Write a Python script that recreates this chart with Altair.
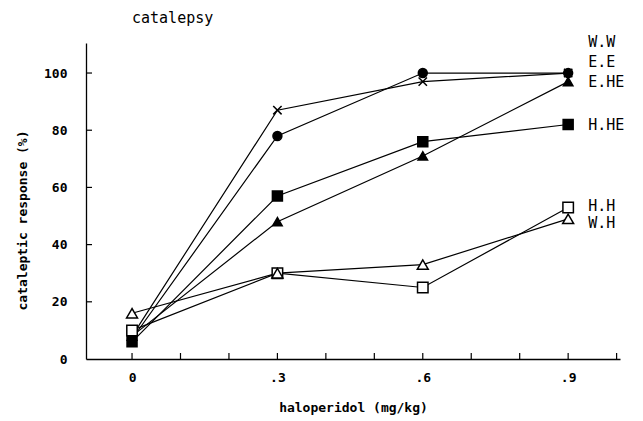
import altair as alt
import pandas as pd

doses = [0, 0.3, 0.6, 0.9]
series = ["W.W", "E.E", "E.HE", "H.HE", "H.H", "W.H"]
ww = [8, 87, 97, 100]
ee = [7, 78, 100, 100]
ehe = [8, 48, 71, 97]
hhe = [6, 57, 76, 82]
hh = [10, 30, 25, 53]
wh = [16, 30, 33, 49]
values = [ww, ee, ehe, hhe, hh, wh]

shapes = ["M-1,-1L1,1M-1,1L1,-1", "circle", "triangle-up", "square", "square", "triangle-up"]
fills = ["transparent", "black", "black", "black", "white", "white"]
sizes = [70, 120, 100, 100, 90, 90]

label_y = [110.8, 103.8, 96.9, 81.8, 53.5, 47.6]

y_ticks = [0, 20, 40, 60, 80, 100]
x_ticks = [0, 0.1, 0.2, 0.3, 0.4, 0.5, 0.6, 0.7, 0.8, 0.9, 1.0]
x_labels = [0, 0.3, 0.6, 0.9]

rows = []
for s, vals in zip(series, values):
    for d, v in zip(doses, vals):
        rows.append({"series": s, "dose": d, "resp": v})
df = pd.DataFrame(rows)
lab = pd.DataFrame({"series": series, "dose": [0.9] * len(series), "ly": label_y})

FONT = "DejaVu Sans Mono"
xs = alt.Scale(domain=[-0.095, 1.007], nice=False, zero=False)
ys = alt.Scale(domain=[0, 110.5], nice=False)

x_enc = alt.X("dose:Q", scale=xs, axis=alt.Axis(
    values=x_labels, title="haloperidol (mg/kg)", ticks=False, grid=False,
    labelExpr="datum.value == 0 ? '0' : replace(format(datum.value, '.1f'), '0.', '.')",
    labelPadding=12, titleY=48, titleBaseline="middle"))
y_enc = alt.Y("resp:Q", scale=ys, axis=alt.Axis(
    values=y_ticks, title="cataleptic response (%)", ticks=False, grid=False,
    labelPadding=19, titleX=-64, titleY=177, titleBaseline="middle", titleAlign="center"))

lines = alt.Chart(df).mark_line(color="black", strokeWidth=1.2).encode(
    x=x_enc, y=y_enc, detail="series:N", order="dose:Q")

points = alt.Chart(df).mark_point(stroke="black", strokeWidth=1.5, opacity=1).encode(
    x="dose:Q", y="resp:Q",
    shape=alt.Shape("series:N", scale=alt.Scale(domain=series, range=shapes), legend=None),
    fill=alt.Fill("series:N", scale=alt.Scale(domain=series, range=fills), legend=None),
    size=alt.Size("series:N", scale=alt.Scale(domain=series, range=sizes), legend=None),
)

labels = alt.Chart(lab).mark_text(align="left", baseline="middle", dx=20, font=FONT,
                                  fontSize=15, color="black").encode(
    x="dose:Q", y="ly:Q", text="series:N")

title = alt.Chart(lab).transform_filter("datum.series == 'W.W'").mark_text(
    align="left", baseline="alphabetic", font=FONT, fontSize=15,
    color="black").encode(x=alt.value(46), y=alt.value(-20), text=alt.value("catalepsy"))

ytick_df = pd.DataFrame({"t": y_ticks[1:]})
yticks = alt.Chart(ytick_df).mark_rule(color="black", strokeWidth=1.2).encode(
    y=alt.Y("t:Q", scale=ys), x=alt.value(0), x2=alt.value(6))
xtick_df = pd.DataFrame({"t": x_ticks})
xticks = alt.Chart(xtick_df).mark_rule(color="black", strokeWidth=1.2).encode(
    x=alt.X("t:Q", scale=xs), y=alt.value(316), y2=alt.value(310))

chart = alt.layer(lines, yticks, xticks, points, labels, title).properties(
    width=534, height=316,
    padding={"left": 86, "top": 43, "right": 23, "bottom": 62},
    autosize=alt.AutoSizeParams(type="none"),
    background="white",
).configure_view(stroke=None).configure_axis(
    domainColor="black", domainWidth=1.3, labelFont=FONT, labelFontSize=13, labelFontWeight="bold",
    labelColor="black", titleFont=FONT, titleFontSize=13, titleFontWeight="bold", titleColor="black",
)

chart.save("out.html", embed_options={"renderer": "svg", "actions": False})
